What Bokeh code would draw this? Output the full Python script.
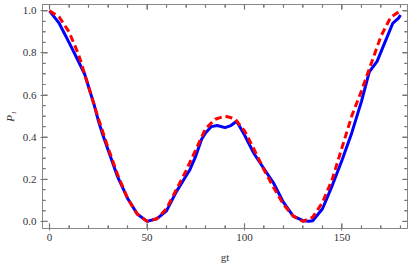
from bokeh.plotting import figure
from bokeh.models import Range1d, FixedTicker, PrintfTickFormatter, LinearAxis, CustomJSTickFormatter
from bokeh.embed import file_html
from bokeh.resources import INLINE

# Data
gt_exact = [0, 5, 10, 15, 20, 25, 30, 35, 40, 45, 50, 55, 60, 65, 70, 75, 80, 85,
            90, 95, 100, 105, 110, 115, 120, 125, 130, 135, 140, 145, 150, 155,
            160, 165, 170, 175, 180]
p_exact = [1.00, 0.97, 0.90, 0.79, 0.64, 0.49, 0.35, 0.22, 0.11, 0.035, 0.00, 0.012,
           0.06, 0.15, 0.24, 0.34, 0.44, 0.485, 0.50, 0.488, 0.43, 0.34, 0.245, 0.16,
           0.08, 0.025, 0.00, 0.02, 0.09, 0.20, 0.35, 0.50, 0.62, 0.75, 0.88, 0.97, 1.00]

gt_num = [0, 5, 10, 15, 18, 20, 23, 25, 27, 30, 35, 40, 45, 50, 55, 60, 65, 70, 72,
          75, 78, 80, 83, 86, 90, 93, 96, 100, 105, 110, 115, 120, 125, 130, 133,
          135, 140, 145, 150, 155, 160, 164, 168, 172, 176, 179, 180]
p_num = [1.00, 0.94, 0.85, 0.757, 0.70, 0.64, 0.55, 0.48, 0.42, 0.34, 0.21, 0.11,
         0.035, 0.00, 0.012, 0.05, 0.14, 0.215, 0.245, 0.31, 0.39, 0.42, 0.45, 0.455,
         0.445, 0.455, 0.475, 0.41, 0.32, 0.25, 0.18, 0.09, 0.025, 0.003, 0.00, 0.003,
         0.06, 0.17, 0.29, 0.42, 0.57, 0.71, 0.76, 0.85, 0.94, 0.965, 0.98]

x_ticks = [0, 50, 100, 150]
x_minor = list(range(0, 181, 10))
y_ticks = [0.0, 0.2, 0.4, 0.6, 0.8, 1.0]
y_minor = [round(i * 0.05, 2) for i in range(0, 21)]

FONT = "Liberation Serif"
FRAME = "#777777"
LABEL = "#333333"

X0, X1 = -3.6, 183.6
Y0, Y1 = -0.034, 1.03
FW, FH = 365, 224

p = figure(frame_width=FW, frame_height=FH, output_backend="svg", toolbar_location=None,
           x_range=Range1d(X0, X1), y_range=Range1d(Y0, Y1),
           min_border_left=32, min_border_right=4, min_border_top=4, min_border_bottom=30,
           x_axis_label="gt", y_axis_label="P\u2081")
p.xgrid.visible = False
p.ygrid.visible = False
p.outline_line_color = "#888888"
p.background_fill_color = "white"

# inward frame ticks on all four sides (lengths in pixels converted to data units)
dx = (X1 - X0) / FW
dy = (Y1 - Y0) / FH
MAJ, MIN = 5, 3
tick_xs, tick_ys = [], []
for t in x_minor:
    L = MAJ if t in x_ticks else MIN
    tick_xs += [[t, t], [t, t]]
    tick_ys += [[Y0, Y0 + L * dy], [Y1, Y1 - L * dy]]
for t in y_minor:
    L = MAJ if any(abs(t - m) < 1e-9 for m in y_ticks) else MIN
    tick_xs += [[X0, X0 + L * dx], [X1, X1 - L * dx]]
    tick_ys += [[t, t], [t, t]]
p.multi_line(xs=tick_xs, ys=tick_ys, line_color=FRAME, line_width=1.2)

p.line(gt_num, p_num, line_color="#0000ff", line_width=3)
p.line(gt_exact, p_exact, line_color="#ff0000", line_width=3, line_dash="7 4")


def style(ax, ticks, minor):
    ax.ticker = FixedTicker(ticks=ticks, minor_ticks=minor)
    ax.axis_line_color = "#888888"
    ax.major_tick_line_color = FRAME
    ax.minor_tick_line_color = FRAME
    ax.major_tick_in = 5
    ax.minor_tick_in = 3
    ax.major_tick_out = 2
    ax.minor_tick_out = 0
    ax.major_label_text_font = FONT
    ax.major_label_text_font_size = "11px"
    ax.major_label_text_color = LABEL
    ax.axis_label_text_font = FONT
    ax.axis_label_text_font_size = "11px"
    ax.axis_label_text_color = LABEL
    ax.axis_label_text_font_style = "normal"


style(p.xaxis[0], x_ticks, x_minor)
style(p.yaxis[0], y_ticks, y_minor)
p.yaxis[0].formatter = PrintfTickFormatter(format="%.1f")
p.xaxis[0].major_label_standoff = 3
p.xaxis[0].axis_label_standoff = 7
p.yaxis[0].major_label_standoff = 4
p.yaxis[0].axis_label_standoff = 4
p.yaxis[0].axis_label_text_font_style = "italic"

blank = CustomJSTickFormatter(code="return '';")
top = LinearAxis(formatter=blank)
style(top, x_ticks, x_minor)
top.major_tick_out = 0
top.major_label_standoff = 0
right = LinearAxis(formatter=blank)
style(right, y_ticks, y_minor)
right.major_tick_out = 0
right.major_label_standoff = 0
p.add_layout(top, "above")
p.add_layout(right, "right")

open("out.html", "w").write(file_html(p, INLINE))
